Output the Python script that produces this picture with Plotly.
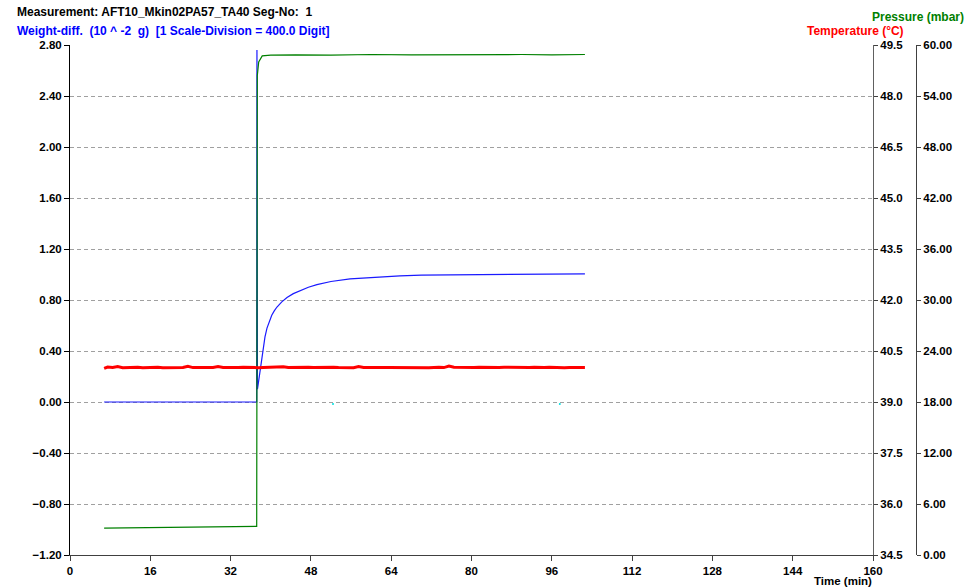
import plotly.graph_objects as go

# ---- weight difference (10^-2 g), left axis ----
weight_t = [6.8, 37.2, 37.25, 37.35, 37.5, 37.8, 38.1, 38.45, 38.85, 39.25, 39.7, 40.2,
            40.7, 41.24, 42.2, 43.24, 44.5, 45.83, 47.5, 49.2, 52.0, 55.8, 60.0, 65.75,
            70.0, 75.7, 85.0, 95.0, 102.6]
weight_v = [0.0, 0.0, 2.76, 0.10, 0.14, 0.22, 0.32, 0.42, 0.51, 0.58, 0.635, 0.68,
            0.715, 0.745, 0.785, 0.82, 0.85, 0.875, 0.90, 0.92, 0.945, 0.965, 0.978, 0.99,
            0.995, 0.998, 1.0, 1.003, 1.005]

# stray readings near zero
stray_t = [52.4, 97.6]
stray_v = [-0.016, -0.016]

# ---- pressure (mbar) ----
press_t = [6.8, 15.0, 25.0, 37.2, 37.24, 37.27, 37.32, 37.6, 38.3, 40.0, 45.0, 52.0,
           60.0, 68.0, 75.0, 82.0, 90.0, 96.0, 102.6]
press_v = [35.29, 35.30, 35.32, 35.34, 39.43, 44.33, 48.6, 49.0, 49.18, 49.2, 49.21, 49.2,
           49.22, 49.21, 49.22, 49.21, 49.22, 49.21, 49.22]

# ---- temperature (degC), one reading per minute ----
temp_t = [6.8, 7.5, 8.5, 9.5, 10.5, 11.5, 12.5, 13.5, 14.5, 15.5, 16.5, 17.5, 18.5, 19.5,
          20.5, 21.5, 22.5, 23.5, 24.5, 25.5, 26.5, 27.5, 28.5, 29.5, 30.5, 31.5, 32.5,
          33.5, 34.5, 35.5, 36.5, 37.5, 38.5, 39.5, 40.5, 41.5, 42.5, 43.5, 44.5, 45.5,
          46.5, 47.5, 48.5, 49.5, 50.5, 51.5, 52.5, 53.5, 54.5, 55.5, 56.5, 57.5, 58.5,
          59.5, 60.5, 61.5, 62.5, 63.5, 64.5, 65.5, 66.5, 67.5, 68.5, 69.5, 70.5, 71.5,
          72.5, 73.5, 74.5, 75.5, 76.5, 77.5, 78.5, 79.5, 80.5, 81.5, 82.5, 83.5, 84.5,
          85.5, 86.5, 87.5, 88.5, 89.5, 90.5, 91.5, 92.5, 93.5, 94.5, 95.5, 96.5, 97.5,
          98.5, 99.5, 100.5, 101.5, 102.6]
temp_v = [21.96, 22.12, 22.06, 22.18, 22.04, 22.08, 22.05, 22.1, 22.03, 22.07, 22.05, 22.09,
          22.04, 22.06, 22.08, 22.03, 22.06, 22.2, 22.05, 22.07, 22.04, 22.08, 22.06, 22.16,
          22.05, 22.07, 22.03, 22.06, 22.09, 22.05, 22.07, 22.04, 22.06, 22.08, 22.05, 22.07,
          22.14, 22.05, 22.08, 22.04, 22.06, 22.1, 22.05, 22.07, 22.04, 22.06, 22.09, 22.05,
          22.07, 22.06, 22.04, 22.18, 22.06, 22.05, 22.08, 22.04, 22.07, 22.06, 22.05, 22.09,
          22.04, 22.06, 22.08, 22.05, 22.07, 22.03, 22.06, 22.1, 22.05, 22.22, 22.08, 22.06,
          22.04, 22.07, 22.05, 22.09, 22.06, 22.04, 22.07, 22.05, 22.08, 22.06, 22.04, 22.07,
          22.05, 22.06, 22.09, 22.04, 22.06, 22.08, 22.05, 22.07, 22.04, 22.06, 22.08, 22.05,
          22.06]

x_ticks = [0, 16, 32, 48, 64, 80, 96, 112, 128, 144, 160]
w_ticks = [2.8, 2.4, 2.0, 1.6, 1.2, 0.8, 0.4, 0.0, -0.4, -0.8, -1.2]
p_ticks = [49.5, 48.0, 46.5, 45.0, 43.5, 42.0, 40.5, 39.0, 37.5, 36.0, 34.5]
t_ticks = [60, 54, 48, 42, 36, 30, 24, 18, 12, 6, 0]

FONT = "Liberation Sans"
tick_font = dict(family=FONT, size=11.5, color="black", weight="bold")

L, R_EDGE, R2, T, B, W, H = 70, 873, 916, 45, 555, 978, 588
PW = R2 - L
PH = B - T


def px(xp):
    return (xp - L) / PW


def py(yp):
    return (B - yp) / PH


fig = go.Figure()
fig.add_trace(go.Scatter(x=temp_t, y=temp_v, yaxis="y3", mode="lines",
                         line=dict(color="#ff0000", width=3), hoverinfo="skip"))
fig.add_trace(go.Scatter(x=press_t, y=press_v, yaxis="y2", mode="lines",
                         line=dict(color="#008000", width=1.2), hoverinfo="skip"))
fig.add_trace(go.Scatter(x=weight_t, y=weight_v, yaxis="y", mode="lines",
                         line=dict(color="#1a1aff", width=1.2), hoverinfo="skip"))
fig.add_trace(go.Scatter(x=stray_t, y=stray_v, yaxis="y", mode="markers",
                         marker=dict(color="#00e0e0", size=2), hoverinfo="skip"))

fig.update_layout(
    width=W, height=H,
    margin=dict(l=L, r=W - R2, t=T, b=H - B),
    paper_bgcolor="white", plot_bgcolor="white",
    showlegend=False,
    xaxis=dict(domain=[0, (R_EDGE - L) / PW], range=[0, 160], tickvals=x_ticks,
               ticks="outside", ticklen=5, tickcolor="#404040", showline=True,
               linecolor="#404040", linewidth=1, showgrid=False, zeroline=False,
               tickfont=tick_font),
    yaxis=dict(range=[-1.2, 2.8], tickvals=w_ticks, tickformat=".2f",
               ticks="outside", ticklen=5, tickcolor="black", showline=True,
               linecolor="black", linewidth=1, showgrid=True, gridcolor="#a0a0a0",
               griddash="4px,3px", gridwidth=1, zeroline=False, tickfont=tick_font),
    yaxis2=dict(overlaying="y", side="right", anchor="x", range=[34.5, 49.5],
                tickvals=p_ticks, tickformat=".1f", ticks="outside", ticklen=4,
                tickcolor="#404040", showline=True, linecolor="#606060", linewidth=1,
                showgrid=False, zeroline=False, tickfont=tick_font),
    yaxis3=dict(overlaying="y", side="right", anchor="free", position=1.0,
                range=[0, 60], tickvals=t_ticks, tickformat=".2f", ticks="outside",
                ticklen=4, tickcolor="#404040", showline=True, linecolor="#404040",
                linewidth=1, showgrid=False, zeroline=False, tickfont=tick_font),
)

NB = "\u00a0"
label_font = dict(family=FONT, size=12, weight="bold")
fig.add_annotation(x=px(15), y=py(12), xref="paper", yref="paper", showarrow=False,
                   xanchor="left", yanchor="middle",
                   text="Measurement: AFT10_Mkin02PA57_TA40 Seg-No:" + NB + NB + "1",
                   font=dict(label_font, color="black"))
fig.add_annotation(x=px(15), y=py(31), xref="paper", yref="paper", showarrow=False,
                   xanchor="left", yanchor="middle",
                   text=("Weight-diff." + NB + NB + "(10 ^ -2" + NB + NB + "g)" + NB + NB
                         + "[1 Scale-Division = 400.0 Digit]"),
                   font=dict(label_font, color="#0000ff"))
fig.add_annotation(x=px(966), y=py(17), xref="paper", yref="paper", showarrow=False,
                   xanchor="right", yanchor="middle", text="Pressure (mbar)",
                   font=dict(label_font, color="#008000"))
fig.add_annotation(x=px(906), y=py(31), xref="paper", yref="paper", showarrow=False,
                   xanchor="right", yanchor="middle", text="Temperature (°C)",
                   font=dict(label_font, color="#ff0000"))
fig.add_annotation(x=px(874), y=py(581), xref="paper", yref="paper", showarrow=False,
                   xanchor="right", yanchor="middle", text="Time (min)",
                   font=dict(label_font, size=11.5, color="black"))

fig.write_html("out.html")
